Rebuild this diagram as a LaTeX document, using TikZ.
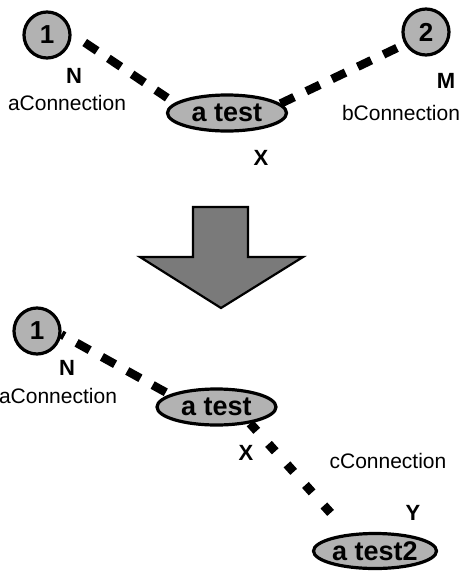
\documentclass[tikz,border=0pt]{standalone}
\usepackage{fontspec}
\setmainfont{Liberation Sans}
\usetikzlibrary{shapes.geometric}

\begin{document}
\begin{tikzpicture}[x=1pt,y=-1pt,
  port/.style={circle, draw, line width=3.2pt, fill=black!30, minimum size=46pt,
    inner sep=0pt, font=\fontsize{26}{26}\selectfont\bfseries},
  obj/.style={ellipse, draw, line width=3.2pt, fill=black!30, inner sep=0pt,
    minimum width=119pt, minimum height=36pt, font=\fontsize{27}{27}\selectfont\bfseries},
  role/.style={anchor=base, inner sep=0pt, font=\fontsize{22}{22}\selectfont\bfseries},
  conname/.style={anchor=base, inner sep=0pt, font=\fontsize{21}{21}\selectfont},
  link/.style={line width=8.5pt, dash pattern=on 15pt off 13.5pt},
  bigarrow/.style={draw, line width=2.2pt, fill=black!52, line join=miter},
]
\fill[white] (0,0) rectangle (463,573);
\useasboundingbox (0,0) rectangle (463,573);

% ---- before: two ports joined to one object ----
\node[port] (c1) at (47,35) {1};
\node[port] (c2) at (426,32) {2};
\node[obj]  (e1) at (227,113) {a test};

\node[role] (n1) at (74,83) {N};
\node[role] (m1) at (446,88) {M};
\node[role] (x1) at (261,165) {X};
\node[conname] (acon1) at (67,110) {aConnection};
\node[conname] (bcon)  at (401,120) {bConnection};

\draw[link, shorten <=15.8pt, shorten >=9pt] (c1.3) -- (e1.169);
\draw[link, shorten >=8.5pt] (e1.10) -- (c2.210);

% ---- transformation arrow ----
\draw[bigarrow] (193,207) -- (248,207) -- (248,257) -- (303,257)
  -- (221,308) -- (140,257) -- (193,257) -- cycle;

% ---- after: port, object and a second object ----
\node[port] (b1)  at (37,331) {1};
\node[obj]  (be1) at (216.5,407) {a test};
\node[obj, minimum width=123pt, minimum height=35pt] (be2) at (375,551) {a test2};

\node[role] (n2) at (67,375) {N};
\node[role] (x2) at (246,460) {X};
\node[role] (y2) at (413,520) {Y};
\node[conname] (acon2) at (58,403) {aConnection};
\node[conname] (ccon)  at (388,468) {cConnection};

\draw[link, dash pattern=on 15pt off 14pt, dash phase=11.6pt, shorten >=2pt]
  (b1.-8) -- (be1.165);
\draw[link, line width=9pt, dash pattern=on 10pt off 17.6pt, shorten >=25pt]
  (be1.-26) -- (be2.146);
\end{tikzpicture}
\end{document}
